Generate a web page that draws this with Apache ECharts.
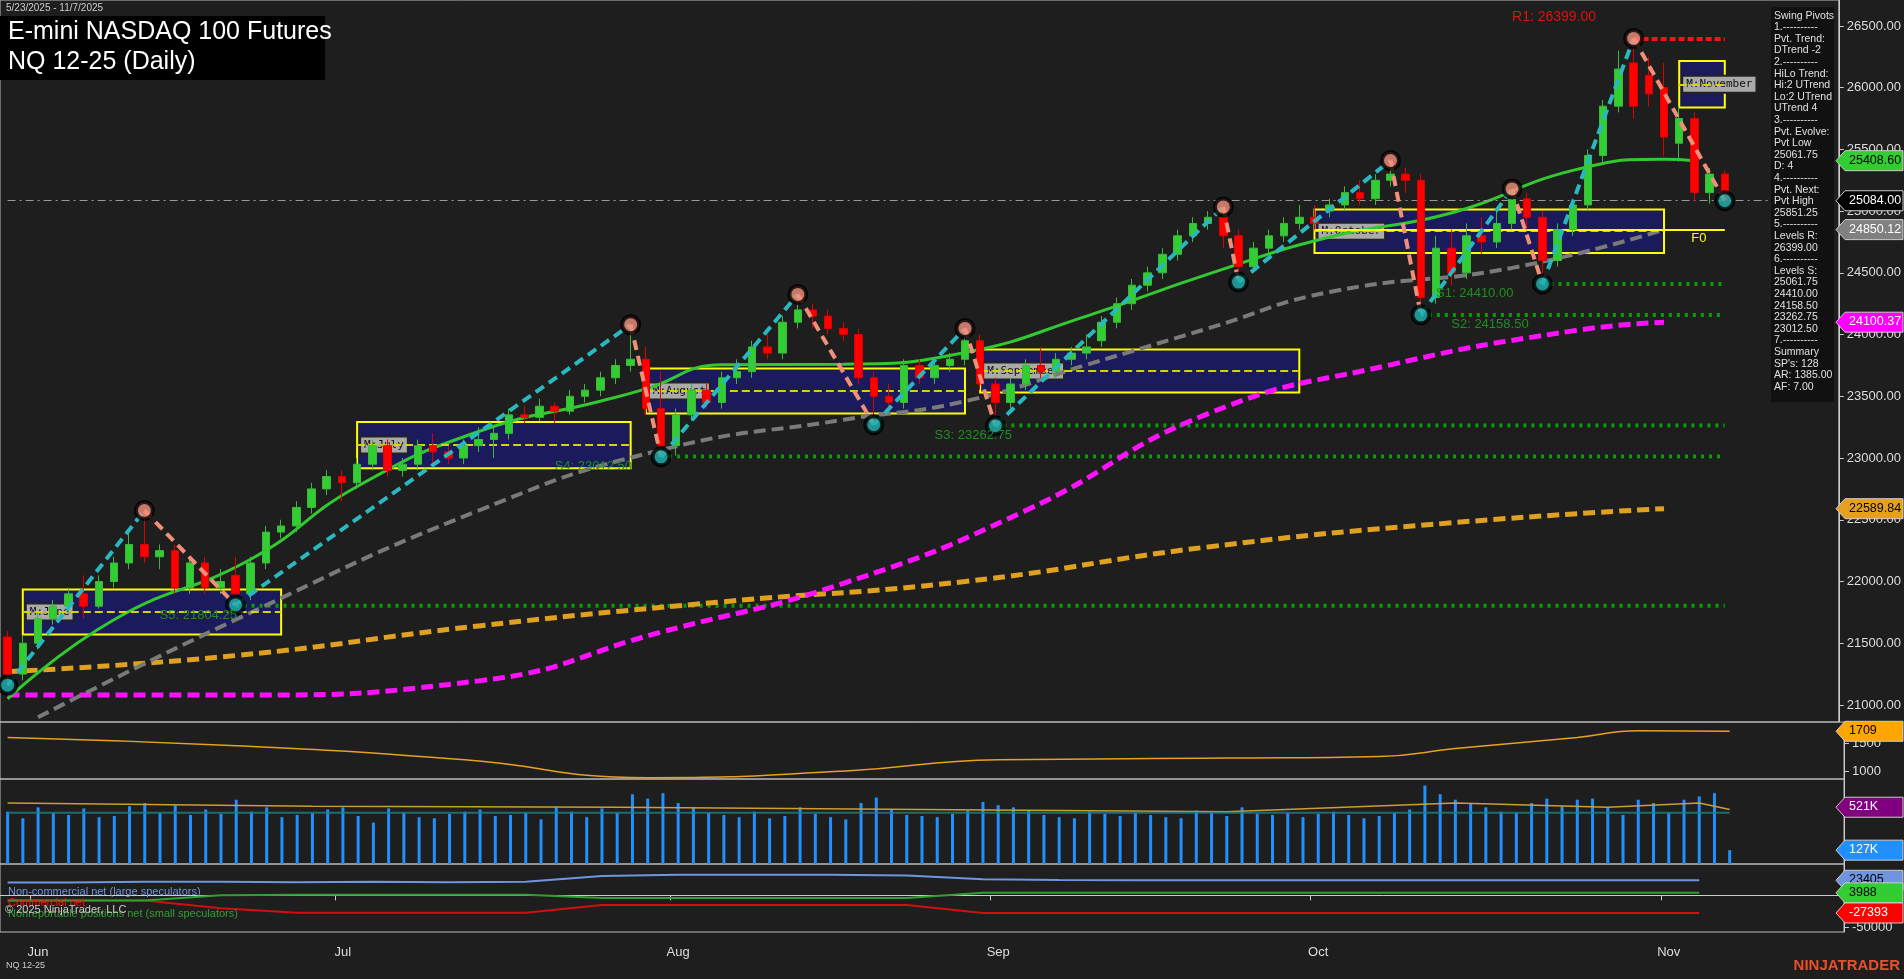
<!DOCTYPE html>
<html>
<head>
<meta charset="utf-8">
<script src="https://cdn.jsdelivr.net/npm/echarts@6/dist/echarts.min.js"></script>
<style>
html,body{margin:0;padding:0;background:#1e1e1e;}
#chart{width:1904px;height:979px;}
</style>
</head>
<body>
<div id="chart"></div>
<script>
// 交易日 5/29 - 11/7 (后面留空白)
var holidays = ['2025-06-19','2025-07-04','2025-09-01'];
var dates = [];
(function(){
    var d = new Date(Date.UTC(2025,4,29));
    var end = new Date(Date.UTC(2025,10,18));
    while (d <= end) {
        var wd = d.getUTCDay();
        var s = d.toISOString().slice(0,10);
        if (wd != 0 && wd != 6 && holidays.indexOf(s) < 0) dates.push(s);
        d.setUTCDate(d.getUTCDate()+1);
    }
})();

// [open, close, low, high]
var candles = [
[21550,21250,21160,21600],[21250,21500,21200,21560],[21500,21700,21450,21750],[21700,21800,21650,21850],
[21800,21900,21750,21950],[21900,21800,21700,22050],[21800,22000,21780,22050],[22000,22150,21950,22200],
[22150,22300,22100,22400],[22300,22200,22150,22560],[22200,22250,22100,22300],[22250,21950,21900,22300],
[21950,22150,21900,22200],[22150,21950,21900,22200],[21950,22000,21900,22100],[22050,21900,21810,22200],
[21900,22150,21850,22200],[22150,22400,22100,22450],[22400,22450,22350,22500],[22450,22600,22400,22650],
[22600,22750,22550,22800],[22750,22850,22700,22900],[22850,22800,22650,22900],[22800,22950,22750,23000],
[22950,23100,22900,23150],[23100,22900,22850,23150],[22900,22950,22850,23000],[22950,23100,22900,23150],
[23100,23050,22950,23200],[23050,23000,22950,23100],[23000,23100,22950,23150],[23100,23150,23050,23250],
[23150,23200,23000,23250],[23200,23350,23150,23400],[23350,23330,23280,23420],[23330,23420,23300,23480],
[23420,23380,23280,23450],[23380,23500,23350,23550],[23500,23550,23450,23600],[23550,23650,23500,23700],
[23650,23750,23600,23800],[23750,23800,23700,24080],[23800,23400,23350,23900],[23400,23100,23010,23700],
[23100,23350,23020,23400],[23350,23550,23300,23600],[23550,23450,23400,23600],[23450,23650,23400,23700],
[23650,23700,23600,23800],[23700,23900,23650,23950],[23900,23850,23800,24000],[23850,24100,23800,24150],
[24100,24200,24050,24325],[24200,24150,24050,24250],[24150,24050,24000,24200],[24050,24000,23950,24100],
[24000,23650,23600,24050],[23650,23500,23270,23700],[23500,23450,23380,23600],[23450,23750,23400,23800],
[23750,23650,23600,23800],[23650,23750,23600,23800],[23750,23800,23700,23850],[23800,23950,23750,24050],
[23950,23600,23550,24000],[23600,23450,23262,23650],[23450,23600,23400,23650],[23600,23750,23550,23800],
[23750,23700,23650,23900],[23700,23800,23650,23850],[23800,23850,23750,23900],[23850,23900,23800,24000],
[23950,24100,23900,24150],[24100,24250,24050,24300],[24250,24400,24200,24450],[24400,24500,24350,24550],
[24500,24650,24450,24700],[24650,24800,24600,24850],[24800,24900,24750,24950],[24900,24950,24850,25000],
[24950,24800,24700,25034],[24800,24550,24425,24850],[24550,24700,24500,24750],[24700,24800,24650,24850],
[24800,24900,24750,24950],[24900,24950,24850,25050],[24950,24900,24850,25050],[25000,25050,24950,25100],
[25050,25150,25000,25200],[25150,25100,25050,25250],[25100,25250,25050,25300],[25250,25300,25200,25410],
[25300,25250,25150,25350],[25250,24300,24160,25300],[24300,24700,24250,24800],[24700,24500,24400,24850],
[24500,24800,24450,24900],[24800,24750,24650,24950],[24750,24900,24700,25000],[24900,25100,24850,25180],
[25100,24950,24850,25150],[24950,24600,24410,25000],[24600,24850,24550,24900],[24850,25050,24800,25100],
[25050,25450,25000,25500],[25450,25850,25400,25900],[25850,26150,25800,26300],[26200,25850,25750,26399],
[26100,25950,25850,26250],[26000,25600,25450,26200],[25550,25750,25400,25850],[25750,25150,25080,25800],
[25150,25300,25060,25350],[25300,25084,25050,25330]
];

var volume = [
480,420,520,470,450,510,430,440,530,560,470,540,450,500,460,590,480,520,430,450,
470,500,520,440,380,510,470,430,420,460,480,500,440,450,470,410,520,480,430,510,
470,640,600,650,560,520,470,450,430,480,420,440,520,460,430,410,560,610,500,450,
440,430,460,490,570,540,520,490,450,430,420,480,460,440,470,450,430,420,490,470,
440,520,460,450,470,430,460,480,450,420,440,470,500,720,640,590,560,520,480,470,
560,600,530,590,600,520,450,590,560,470,590,620,650,127
];
var volAvg = {0:560, 20:530, 40:520, 60:500, 80:480, 95:560, 105:520, 111:560, 113:500};

var atr = {0:1600, 15:1450, 30:1200, 42:880, 55:1000, 65:1200, 80:1230, 90:1260, 95:1400, 103:1600, 107:1720, 113:1709};

var smaGreen = {0:21050, 7:21690, 16:22180, 23:22770, 31:23215, 39:23460, 42:23560, 47:23755, 55:23760, 63:23855, 71:24150, 79:24490, 87:24790, 95:24985, 103:25330, 109:25420, 111:25408};
var smaGrey = {2:20900, 15:21690, 31:22575, 43:23065, 55:23310, 63:23460, 71:23755, 79:24050, 87:24345, 99:24540, 109:24850};
var smaMagenta = {0:21080, 15:21080, 31:21195, 43:21590, 55:21985, 67:22575, 79:23360, 91:23755, 103:24030, 109:24100};
var smaOrange = {0:21270, 15:21400, 31:21640, 47:21835, 63:22000, 79:22280, 95:22475, 109:22590};

// 摆动枢轴 [index, price]
var pivots = [[0,21160],[9,22575],[15,21810],[41,24080],[43,23010],[52,24325],[57,23270],[63,24050],[65,23262],
[80,25034],[81,24425],[91,25410],[93,24160],[99,25180],[101,24410],[107,26399],[113,25084]];

// 支撑/阻力 [index, price, label, labelIdx]
var levels = [[15,21804.25,'S5: 21804.25',10],[43,23012.50,'S4: 23012.50',36],[65,23262.75,'S3: 23262.75',61],
[93,24158.50,'S2: 24158.50',95],[101,24410.00,'S1: 24410.00',94]];
var r1 = [107,26399.00];

// 月度区间 [startIdx, endIdx, top, bottom, label]
var zones = [[1,18,21935,21570,'M:June'],[23,41,23292,22918,'M:July'],[42,63,23725,23360,'M:August'],
[64,85,23880,23530,'M:September'],[86,109,25014,24660,'M:October'],[110,113,26215,25840,'M:November']];

// COT 周数据 [index, large spec, commercial, small spec]
var cot = [[0,20000,-8000,-8000],[4,20000,-8000,-8000],[9,21000,-8000,-8000],[14,21000,-20000,0],
[19,20500,-27000,1000],[24,21000,-27000,1000],[29,20500,-27000,1000],[34,21000,-27000,1000],
[39,30000,-15000,-4000],[44,32000,-15000,-4000],[49,32000,-15000,-4000],[54,32000,-15000,-4000],
[59,31000,-15000,-4000],[64,25000,-27393,3988],[69,24000,-27393,3988],[74,23405,-27393,3988],
[79,23405,-27393,3988],[84,23405,-27393,3988],[89,23405,-27393,3988],[94,23405,-27393,3988],
[99,23405,-27393,3988],[104,23405,-27393,3988],[111,23405,-27393,3988]];

var priceTicks = [21000,21500,22000,22500,23000,23500,24000,24500,25000,25500,26000,26500];

var N = dates.length;
function sparse(obj){
    var a = [];
    for (var i = 0; i < N; i++) a.push(obj.hasOwnProperty(i) ? obj[i] : null);
    return a;
}
var monthNames = ['Jan','Feb','Mar','Apr','May','Jun','Jul','Aug','Sep','Oct','Nov','Dec'];
function isMonthStart(idx){
    if (idx == 0) return false;
    return dates[idx].slice(5,7) != dates[idx-1].slice(5,7);
}

var series = [];
// 月度区间
var areas = [], mids = [];
for (var i = 0; i < zones.length; i++) {
    var z = zones[i];
    areas.push([{xAxis: z[0], yAxis: z[2], name: z[4]}, {xAxis: z[1], yAxis: z[3]}]);
    mids.push([{coord:[z[0], (z[2]+z[3])/2]}, {coord:[z[1], (z[2]+z[3])/2]}]);
}
series.push({
    type: 'candlestick', name: 'NQ', xAxisIndex: 0, yAxisIndex: 0,
    data: candles, barWidth: 8, z: 5,
    itemStyle: {color: '#32cd32', color0: '#ff0000', borderColor: '#3cb83c', borderColor0: '#e00000', borderWidth: 1},
    markArea: {
        silent: true, z: 1,
        itemStyle: {color: 'rgba(25,25,100,0.9)', borderColor: '#ffff00', borderWidth: 2},
        label: {show: true, position: 'insideLeft', color: '#111', backgroundColor: '#aaaaaa',
            borderColor: '#222', borderWidth: 2, padding: [2,3], fontFamily: 'DejaVu Sans Mono', fontSize: 11},
        data: areas
    },
    markLine: {
        silent: true, symbol: 'none', label: {show: false},
        lineStyle: {color: '#d4d400', type: 'dashed', width: 2},
        data: mids.concat([
            [{coord:[0,25084], lineStyle:{color:'#999', type:[8,4,2,4], width:1}}, {coord:[N-1,25084]}],
            [{coord:[86,24850], lineStyle:{color:'#ffff00', type:'solid', width:2}}, {coord:[113,24850]}],
            [{coord:[r1[0],r1[1]], lineStyle:{color:'#ff1010', type:[6,3], width:4}}, {coord:[113,r1[1]]}]
        ])
    }
});
// 支撑线
for (var i = 0; i < levels.length; i++) {
    var a = [];
    for (var j = 0; j < N; j++) a.push(j >= levels[i][0] && j <= 113 ? levels[i][1] : null);
    series.push({type:'line', data:a, symbol:'none', z:2, lineStyle:{color:'#0a9a0a', width:4, type:[3,5]}});
}
series.push({type:'line', data:sparse(smaOrange), symbol:'none', smooth:true, connectNulls:true, z:3, lineStyle:{color:'#e0a020', width:5, type:[12,6]}});
series.push({type:'line', data:sparse(smaMagenta), symbol:'none', smooth:true, connectNulls:true, z:3, lineStyle:{color:'#ff10ff', width:5, type:[12,6]}});
series.push({type:'line', data:sparse(smaGrey), symbol:'none', smooth:true, connectNulls:true, z:3, lineStyle:{color:'#7a7a7a', width:4, type:[12,6]}});
series.push({type:'line', data:sparse(smaGreen), symbol:'none', smooth:true, connectNulls:true, z:4, lineStyle:{color:'#32c832', width:3}});
// 枢轴连线
for (var i = 0; i + 1 < pivots.length; i++) {
    var a = [];
    for (var j = 0; j < N; j++) a.push(null);
    a[pivots[i][0]] = pivots[i][1];
    a[pivots[i+1][0]] = pivots[i+1][1];
    var up = pivots[i+1][1] > pivots[i][1];
    series.push({type:'line', data:a, symbol:'none', connectNulls:true, z:6,
        lineStyle:{color: up ? '#2ab8c0' : '#f0907a', width:4, type:[10,6]}});
}
series.push({type:'scatter', z:7, symbolSize:17,
    data: pivots.map(function(p, k){
        var hi = (k > 0 && p[1] > pivots[k-1][1]) || (k == 0 && p[1] > pivots[1][1]);
        return {value:[p[0], p[1]], itemStyle:{color: hi ? '#f0907a' : '#20b0b0', borderColor:'#000', borderWidth:4}};
    })
});
// ATR
series.push({type:'line', xAxisIndex:1, yAxisIndex:1, data:sparse(atr), symbol:'none', smooth:true, connectNulls:true, lineStyle:{color:'#e8a020', width:1.5}});
// 成交量
series.push({type:'bar', xAxisIndex:2, yAxisIndex:2, data:volume, barWidth:3, itemStyle:{color:'#2090ff'}});
series.push({type:'line', xAxisIndex:2, yAxisIndex:2, data:sparse(volAvg), symbol:'none', connectNulls:true, lineStyle:{color:'#c8a030', width:1.5}});
series.push({type:'line', xAxisIndex:2, yAxisIndex:2, data:volume.map(function(){return 470;}), symbol:'none', lineStyle:{color:'#1f7f80', width:2, opacity:0.8}});
// COT
var cotNames = ['#6f95e0','#d01010','#30a030'];
for (var k = 1; k <= 3; k++) {
    var o = {};
    cot.forEach(function(r){ o[r[0]] = r[k]; });
    series.push({type:'line', xAxisIndex:3, yAxisIndex:3, data:sparse(o), symbol:'none', connectNulls:true,
        lineStyle:{color: cotNames[k-1], width:2}});
}

function xa(idx, show){
    return {type:'category', gridIndex:idx, data:dates, boundaryGap:true,
        axisLine:{show:show, lineStyle:{color:'#cccccc'}},
        axisTick:{show:show, interval:function(i){return isMonthStart(i);}, lineStyle:{color:'#cccccc'}},
        axisLabel:{show:show, interval:function(i){return isMonthStart(i);}, margin:14, color:'#dddddd', fontFamily:'Liberation Sans', fontSize:13,
            formatter:function(v){return monthNames[parseInt(v.slice(5,7),10)-1];}},
        splitLine:{show:false}};
}
function ya(idx, min, max, ticks, fmt){
    return {type:'value', gridIndex:idx, position:'right', min:min, max:max, scale:true,
        axisLine:{show:true, lineStyle:{color:'#cccccc'}},
        axisTick:{show:true, customValues:ticks, lineStyle:{color:'#cccccc'}},
        axisLabel:{show:true, customValues:ticks, formatter:fmt, color:'#dddddd', fontFamily:'Liberation Sans', fontSize:13},
        splitLine:{show:false}};
}

var chart = echarts.init(document.getElementById('chart'));
chart.setOption({
    backgroundColor:'#1e1e1e',
    animation:false,
    grid:[
        {left:0, right:60, top:0, height:722, show:true, borderColor:'#bbbbbb', borderWidth:1},
        {left:0, right:60, top:722, height:57, show:true, borderColor:'#bbbbbb', borderWidth:1},
        {left:0, right:60, top:779, height:85, show:true, borderColor:'#bbbbbb', borderWidth:1},
        {left:0, right:60, top:864, height:68, show:true, borderColor:'#bbbbbb', borderWidth:1}
    ],
    xAxis:[xa(0,false), xa(1,false), xa(2,false), xa(3,true)],
    yAxis:[
        ya(0, 20862, 26710, priceTicks, function(v){return v.toFixed(2);}),
        ya(1, 857, 1875, [1000,1500], function(v){return String(v);}),
        ya(2, 0, 780, [], function(v){return '';}),
        ya(3, -57000, 48800, [-50000], function(v){return String(v);})
    ],
    series:series
});

// 文字与右侧标签
var g = [];
function txt(o){ o.z = 100; g.push(o); }
txt({type:'text', left:6, top:3, style:{text:'5/23/2025 - 11/7/2025', fill:'#cccccc', font:'10px Liberation Sans'}});
txt({type:'rect', shape:{x:0, y:16, width:325, height:64}, style:{fill:'#000000'}});
txt({type:'text', left:8, top:20, style:{text:'E-mini NASDAQ 100 Futures', fill:'#ffffff', font:'25px Liberation Sans'}});
txt({type:'text', left:8, top:50, style:{text:'NQ 12-25 (Daily)', fill:'#ffffff', font:'25px Liberation Sans'}});
var info = ['Swing Pivots','1.----------','Pvt. Trend:','DTrend -2','2.----------','HiLo Trend:','Hi:2 UTrend','Lo:2 UTrend','UTrend 4',
'3.----------','Pvt. Evolve:','Pvt Low','25061.75','D: 4','4.----------','Pvt. Next:','Pvt High','25851.25','5.----------',
'Levels R:','26399.00','6.----------','Levels S:','25061.75','24410.00','24158.50','23262.75','23012.50','7.----------',
'Summary',"SP's: 128",'AR: 1385.00','AF: 7.00'];
txt({type:'rect', shape:{x:1771, y:7, width:63, height:395}, style:{fill:'#111111'}});
txt({type:'text', left:1774, top:10, style:{text:info.join('\n'), fill:'#e0e0e0', font:'10.5px Liberation Sans', lineHeight:11.6}});

function badge(panel, val, t, bg, fg){
    var y = chart.convertToPixel({yAxisIndex:panel}, val);
    txt({type:'polygon', shape:{points:[[1836,y],[1845,y-10],[1903,y-10],[1903,y+10],[1845,y+10]]}, style:{fill:bg, stroke:'#cccccc', lineWidth:1}});
    txt({type:'text', left:1849, top:y-7, style:{text:t, fill:fg, font:'12.5px Liberation Sans'}});
}
badge(0, 25408.60, '25408.60', '#32cd32', '#000');
badge(0, 25084.00, '25084.00', '#000000', '#fff');
badge(0, 24850.12, '24850.12', '#808080', '#fff');
badge(0, 24100.37, '24100.37', '#ff00ff', '#fff');
badge(0, 22589.84, '22589.84', '#e6a020', '#000');
badge(1, 1709, '1709', '#ffa500', '#000');
badge(2, 521, '521K', '#800080', '#fff');
badge(2, 127, '127K', '#2090ff', '#fff');
badge(3, 23405, '23405', '#6f95e0', '#000');
badge(3, 3988, '3988', '#32cd32', '#000');
badge(3, -27393, '-27393', '#ff0000', '#fff');

levels.forEach(function(l){
    var p = chart.convertToPixel({xAxisIndex:0, yAxisIndex:0}, [l[3], l[1]]);
    txt({type:'text', left:p[0], top:p[1]+3, style:{text:l[2], fill:'#1f8f1f', font:'13px Liberation Sans'}});
});
var pr = chart.convertToPixel({xAxisIndex:0, yAxisIndex:0}, [r1[0]-8, r1[1]]);
txt({type:'text', left:pr[0], top:10, style:{text:'R1: 26399.00', fill:'#e01010', font:'14px Liberation Sans'}});
var pf = chart.convertToPixel({xAxisIndex:0, yAxisIndex:0}, [110, 24850]);
txt({type:'text', left:pf[0]+12, top:pf[1]+2, style:{text:'F0', fill:'#ffff00', font:'13px Liberation Sans'}});

txt({type:'text', left:8, top:886, style:{text:'Non-commercial net (large speculators)', fill:'#6f95e0', font:'11px Liberation Sans'}});
txt({type:'text', left:8, top:897, style:{text:'Commercial net', fill:'#ff1010', font:'11px Liberation Sans'}});
txt({type:'text', left:8, top:908, style:{text:'Nonreportable positions net (small speculators)', fill:'#30a030', font:'11px Liberation Sans'}});
txt({type:'text', left:5, top:904, style:{text:'\u00a9 2025 NinjaTrader, LLC', fill:'#cccccc', font:'11px Liberation Sans'}});
txt({type:'text', left:6, top:961, style:{text:'NQ 12-25', fill:'#cccccc', font:'9px Liberation Sans'}});
txt({type:'text', right:4, top:958, style:{text:'NINJATRADER', fill:'#e8502a', font:'bold 15px Liberation Sans'}});
chart.setOption({graphic:g});
</script>
</body>
</html>
